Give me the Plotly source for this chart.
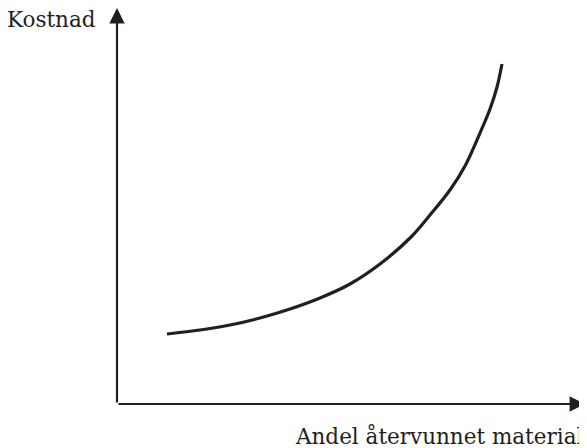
import plotly.graph_objects as go

# Curve values in chart units (x: 0-100 along axis, y: 0-100 along axis)
x_vals = [10.68, 17.74, 24.15, 30.56, 36.97, 43.38, 49.79, 56.20, 62.61, 66.88,
          71.15, 74.36, 77.56, 79.70, 81.20, 82.26]
y_vals = [17.68, 18.69, 19.95, 21.72, 23.99, 26.77, 30.30, 35.35, 41.92, 47.73,
          54.04, 60.10, 68.43, 74.49, 80.05, 85.86]
x_label = "Andel återvunnet material"
y_label = "Kostnad"

ink = "#231f20"
font_family = "DejaVu Serif"

fig = go.Figure()
fig.add_trace(go.Scatter(
    x=x_vals, y=y_vals, mode="lines",
    line=dict(color=ink, width=3.2, shape="spline", smoothing=1.0),
    hoverinfo="skip", showlegend=False, cliponaxis=False,
))

# axis arrows
fig.add_annotation(x=100, y=0, ax=0, ay=0, xref="x", yref="y", axref="x", ayref="y",
                   text="", showarrow=True, arrowhead=2, arrowsize=1.4, arrowwidth=2.2,
                   arrowcolor=ink, standoff=0, startstandoff=0)
fig.add_annotation(x=0, y=100, ax=0, ay=0, xref="x", yref="y", axref="x", ayref="y",
                   text="", showarrow=True, arrowhead=2, arrowsize=1.4, arrowwidth=2.2,
                   arrowcolor=ink, standoff=0, startstandoff=0)

fig.add_annotation(x=-0.041, y=0.97, xref="paper", yref="paper", xanchor="right", yanchor="middle",
                   text=y_label, showarrow=False, font=dict(family=font_family, size=21.5, color=ink))
fig.add_annotation(x=1.0, y=-0.081, xref="paper", yref="paper", xanchor="right", yanchor="middle",
                   text=x_label, showarrow=False, font=dict(family=font_family, size=21.5, color=ink))

axis_common = dict(showgrid=False, zeroline=False, showticklabels=False, ticks="",
                   showline=False, fixedrange=True)
fig.update_xaxes(range=[0, 100], **axis_common)
fig.update_yaxes(range=[0, 100], **axis_common)

# page body has an 8px default margin, so the figure is sized to fit the window
fig.update_layout(
    width=579, height=440,
    margin=dict(l=109, r=2, t=0, b=44, autoexpand=False),
    plot_bgcolor="white", paper_bgcolor="white",
    showlegend=False,
)

fig.write_html("out.html")
